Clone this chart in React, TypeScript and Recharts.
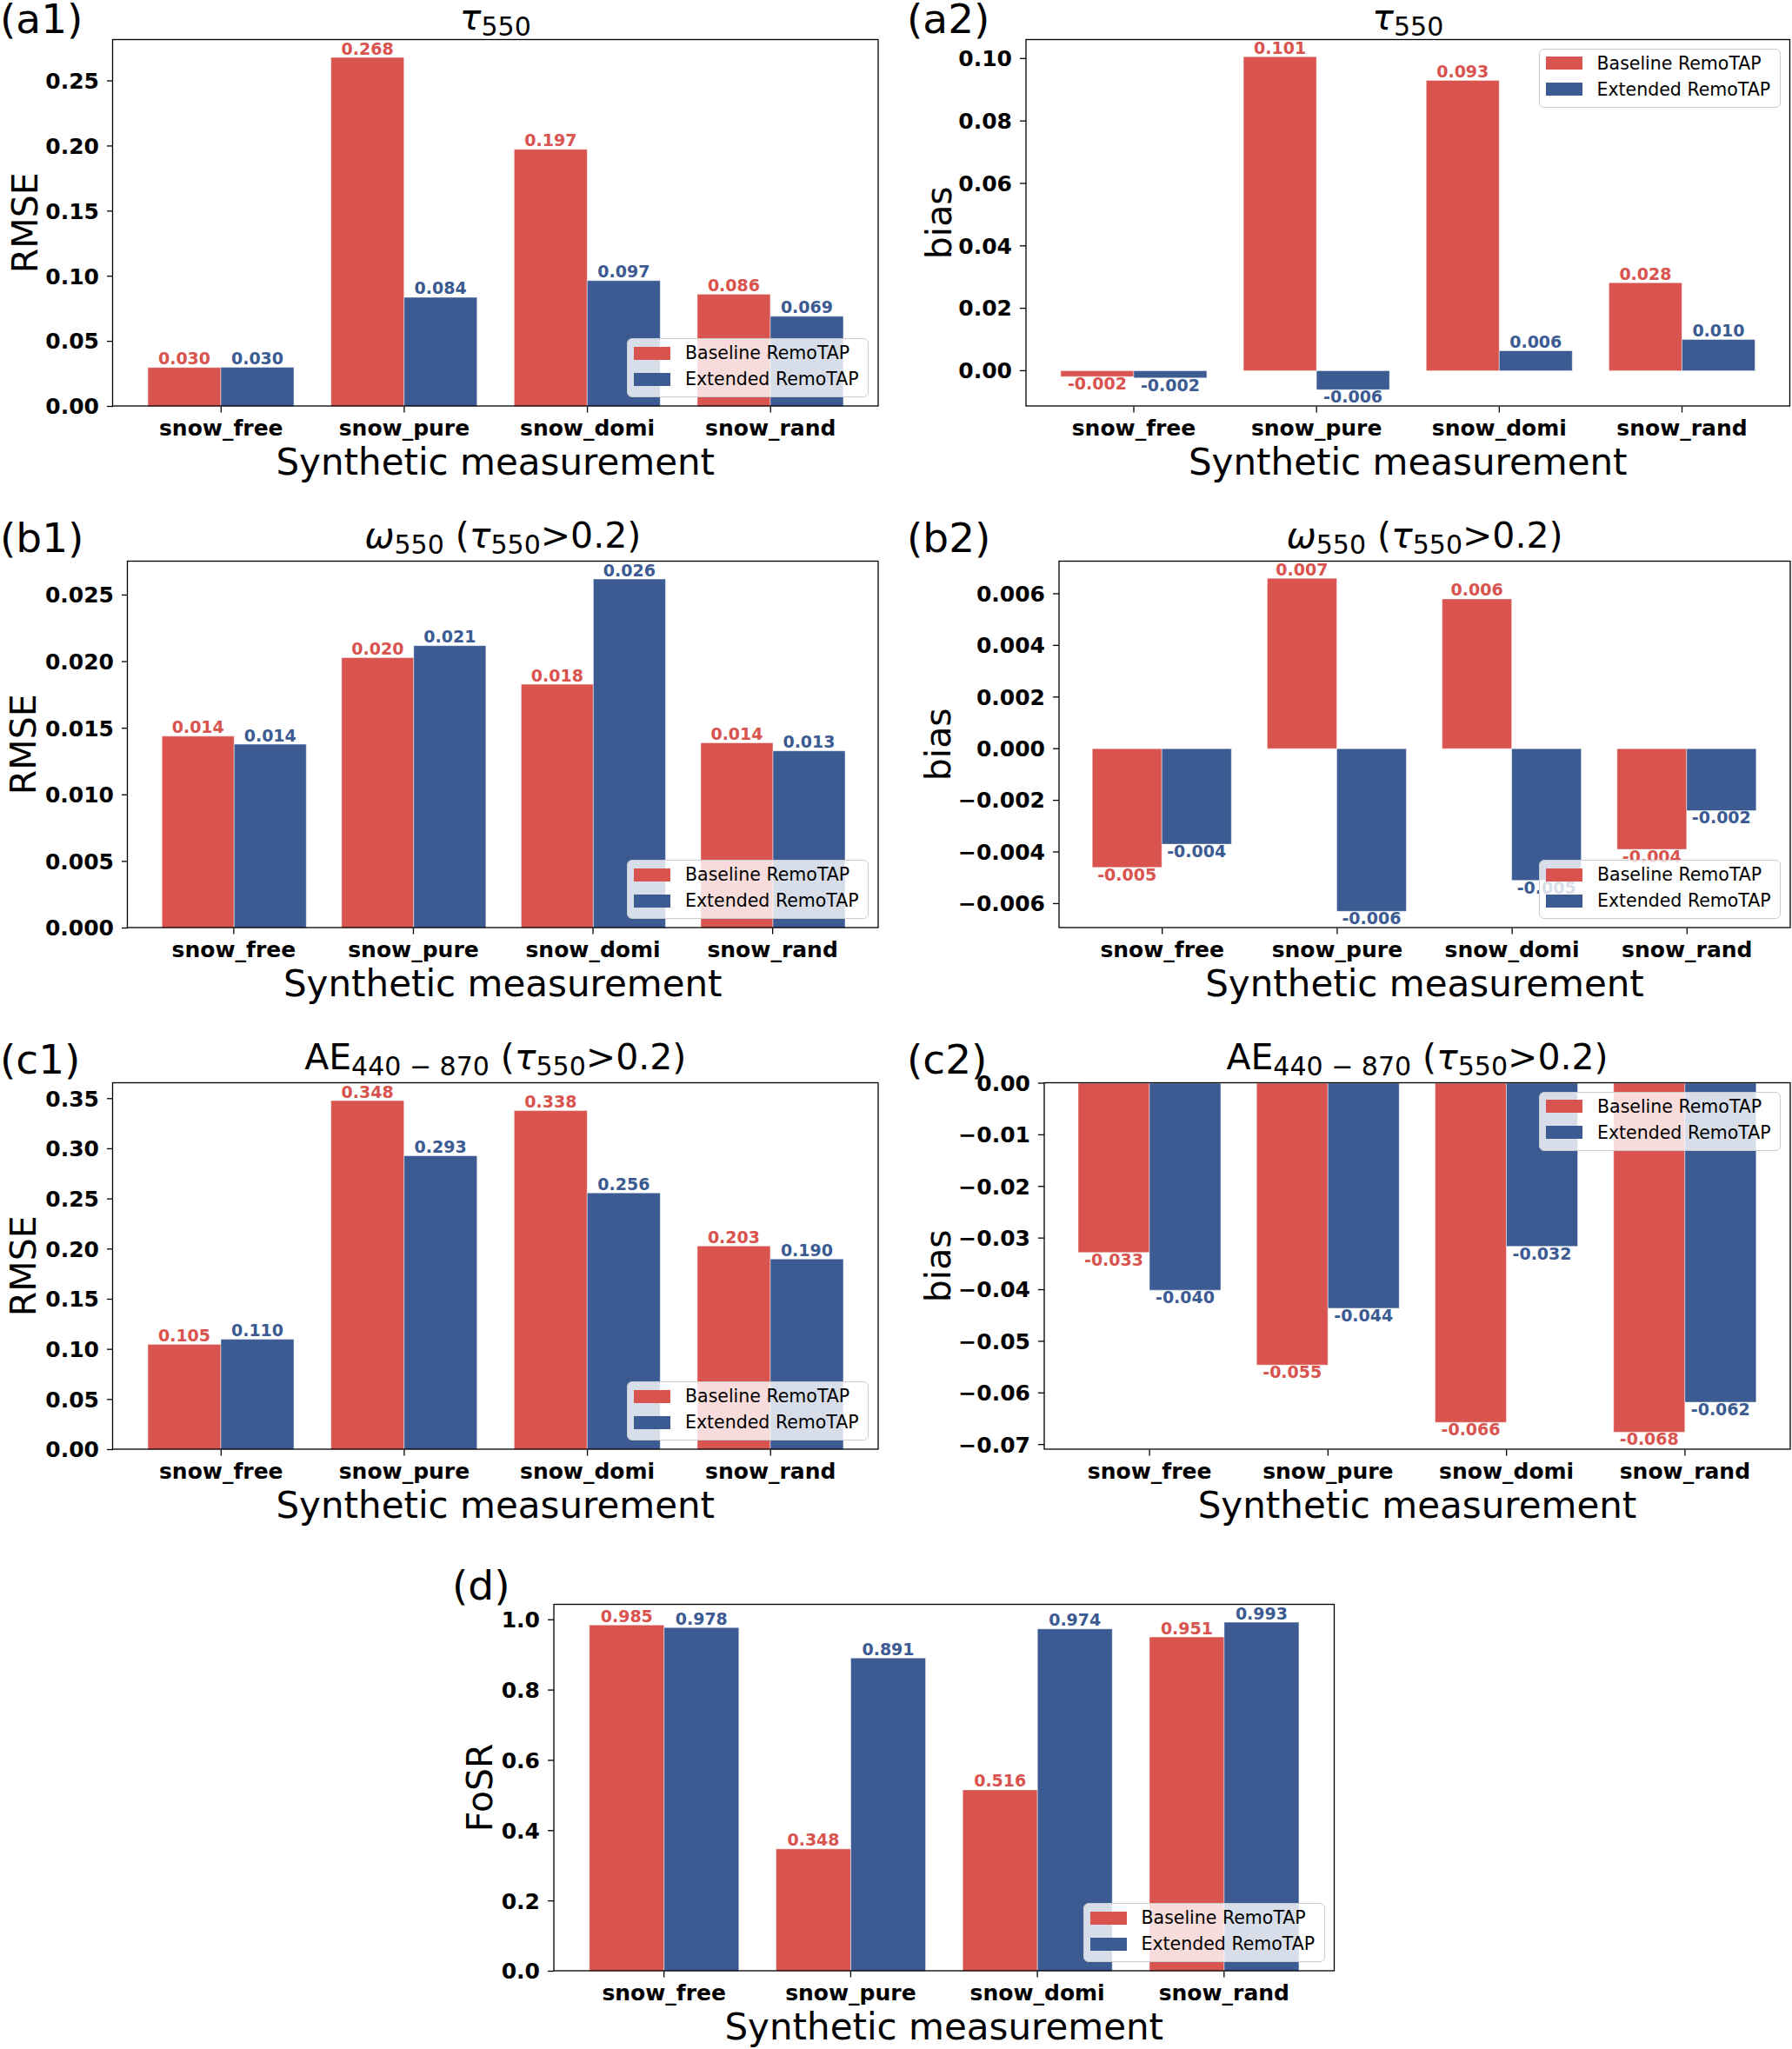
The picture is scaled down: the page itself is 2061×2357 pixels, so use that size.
import React from 'react';
import { BarChart, Bar, XAxis, YAxis, LabelList, Legend } from 'recharts';

const FONT = "'DejaVu Sans', Verdana, sans-serif";
const RED = '#d9534f';
const BLUE = '#3b5b92';

const categories = ['snow_free', 'snow_pure', 'snow_domi', 'snow_rand'];
const seriesNames = ['Baseline RemoTAP', 'Extended RemoTAP'];

// (a) tau550
const a1Baseline = [0.0299, 0.268, 0.1974, 0.0862];
const a1Extended = [0.03, 0.0838, 0.0966, 0.0692];
const a1Ticks = [0, 0.05, 0.1, 0.15, 0.2, 0.25];
const a2Baseline = [-0.0019, 0.1006, 0.093, 0.0282];
const a2Extended = [-0.0023, -0.0061, 0.0064, 0.01];
const a2Ticks = [0, 0.02, 0.04, 0.06, 0.08, 0.1];

// (b) omega550, tau550 > 0.2
const b1Baseline = [0.0144, 0.0203, 0.0183, 0.0139];
const b1Extended = [0.0138, 0.0212, 0.0262, 0.0133];
const b1Ticks = [0, 0.005, 0.01, 0.015, 0.02, 0.025];
const b2Baseline = [-0.0046, 0.0066, 0.0058, -0.0039];
const b2Extended = [-0.0037, -0.0063, -0.0051, -0.0024];
const b2Ticks = [-0.006, -0.004, -0.002, 0, 0.002, 0.004, 0.006];

// (c) AE440-870, tau550 > 0.2
const c1Baseline = [0.105, 0.348, 0.338, 0.203];
const c1Extended = [0.11, 0.293, 0.256, 0.19];
const c1Ticks = [0, 0.05, 0.1, 0.15, 0.2, 0.25, 0.3, 0.35];
const c2Baseline = [-0.0328, -0.0546, -0.0657, -0.0676];
const c2Extended = [-0.0401, -0.0436, -0.0316, -0.0618];
const c2Ticks = [-0.07, -0.06, -0.05, -0.04, -0.03, -0.02, -0.01, 0];

// (d) FoSR
const dBaseline = [0.985, 0.348, 0.516, 0.951];
const dExtended = [0.978, 0.891, 0.974, 0.993];
const dTicks = [0, 0.2, 0.4, 0.6, 0.8, 1.0];

// layout
const YW = 120; // y axis width
const XH = 70; // x axis height
const MT = 20;
const MR = 10;
const PH = 421.5; // plot height
const LEG_W = 278;
const LEG_H = 68;

const TITLE = 41;
const SUB = 30;
const SHIFT = 7;
const TICK_FONT = 25;

// matplotlib-like autoscale for bars (5% margin, sticky at zero)
function barDomain(vals: number[]): [number, number] {
  const lo = Math.min(0, ...vals);
  const hi = Math.max(0, ...vals);
  const m = (hi - lo) * 0.05;
  return [lo < 0 ? lo - m : 0, hi > 0 ? hi + m : 0];
}

const fmtTick = (d: number) => (v: number) =>
  (v < -1e-12 ? '\u2212' : '') + Math.abs(v).toFixed(d);

const valueLabel = (color: string) => (props: any) => {
  const vb = props.viewBox ?? props;
  const x = Number(vb.x);
  const y = Number(vb.y);
  const w = Number(vb.width);
  const h = Number(vb.height);
  const v = Number(props.value);
  const cx = x + w / 2;
  const top = Math.min(y, y + h);
  const bottom = Math.max(y, y + h);
  return (
    <text
      x={cx}
      y={v >= 0 ? top - 3.5 : bottom + 15}
      textAnchor="middle"
      fill={color}
      fontSize={19}
      fontWeight="bold"
      fontFamily={FONT}
    >
      {v.toFixed(3)}
    </text>
  );
};

const LegendBox = (props: any) => {
  const items = props.payload ?? [];
  return (
    <div
      style={{
        boxSizing: 'border-box',
        width: LEG_W,
        height: LEG_H,
        background: 'rgba(255,255,255,0.8)',
        border: '1.5px solid #cccccc',
        borderRadius: 6,
        padding: '1px 0 0 7px',
        fontFamily: FONT,
        fontSize: 20.5,
        color: '#000',
      }}
    >
      {items.map((it: any) => (
        <div key={it.value} style={{ display: 'flex', alignItems: 'center', height: 30 }}>
          <span style={{ display: 'inline-block', width: 42, height: 15, background: it.color, marginRight: 17 }} />
          <span>{it.value}</span>
        </div>
      ))}
    </div>
  );
};

type Plot = { left: number; top: number; width: number };

type PanelDef = {
  id: string;
  base: number[];
  ext: number[];
  ticks: number[];
  decimals: number;
  plot: Plot;
  legend: 'upper' | 'lower';
  ylabel: string;
  ylabelX: number;
  labelX: number;
  labelY: number;
  title: 'tau' | 'omega' | 'ae' | 'none';
  titleY: number;
};

const panels: PanelDef[] = [
  { id: '(a1)', base: a1Baseline, ext: a1Extended, ticks: a1Ticks, decimals: 2, plot: { left: 129.5, top: 45.5, width: 880.5 }, legend: 'lower', ylabel: 'RMSE', ylabelX: 43, labelX: 0, labelY: 38, title: 'tau', titleY: 34 },
  { id: '(a2)', base: a2Baseline, ext: a2Extended, ticks: a2Ticks, decimals: 2, plot: { left: 1180, top: 45.5, width: 878.5 }, legend: 'upper', ylabel: 'bias', ylabelX: 1094, labelX: 1043, labelY: 38, title: 'tau', titleY: 34 },
  { id: '(b1)', base: b1Baseline, ext: b1Extended, ticks: b1Ticks, decimals: 3, plot: { left: 146.5, top: 645.5, width: 863.5 }, legend: 'lower', ylabel: 'RMSE', ylabelX: 41, labelX: 0, labelY: 635, title: 'omega', titleY: 630 },
  { id: '(b2)', base: b2Baseline, ext: b2Extended, ticks: b2Ticks, decimals: 3, plot: { left: 1218, top: 645.5, width: 841 }, legend: 'lower', ylabel: 'bias', ylabelX: 1092.5, labelX: 1043, labelY: 635, title: 'omega', titleY: 630 },
  { id: '(c1)', base: c1Baseline, ext: c1Extended, ticks: c1Ticks, decimals: 2, plot: { left: 129.5, top: 1245.5, width: 880.5 }, legend: 'lower', ylabel: 'RMSE', ylabelX: 41, labelX: 0, labelY: 1235, title: 'ae', titleY: 1229.5 },
  { id: '(c2)', base: c2Baseline, ext: c2Extended, ticks: c2Ticks, decimals: 2, plot: { left: 1201, top: 1245.5, width: 858 }, legend: 'upper', ylabel: 'bias', ylabelX: 1092.5, labelX: 1043, labelY: 1235, title: 'ae', titleY: 1229.5 },
  { id: '(d)', base: dBaseline, ext: dExtended, ticks: dTicks, decimals: 1, plot: { left: 637, top: 1845.5, width: 897.5 }, legend: 'lower', ylabel: 'FoSR', ylabelX: 566, labelX: 520, labelY: 1840, title: 'none', titleY: 0 },
];

const Cond = () => (
  <>
    <tspan dy={-SHIFT}>{' ('}</tspan>
    <tspan fontStyle="italic">τ</tspan>
    <tspan fontSize={SUB} dy={SHIFT}>550</tspan>
    <tspan dy={-SHIFT}>{'>0.2)'}</tspan>
  </>
);

const TitleText = ({ kind }: { kind: PanelDef['title'] }) => {
  if (kind === 'tau')
    return (
      <>
        <tspan fontStyle="italic">τ</tspan>
        <tspan fontSize={SUB} dy={SHIFT}>550</tspan>
      </>
    );
  if (kind === 'omega')
    return (
      <>
        <tspan fontStyle="italic">ω</tspan>
        <tspan fontSize={SUB} dy={SHIFT}>550</tspan>
        <Cond />
      </>
    );
  return (
    <>
      <tspan>AE</tspan>
      <tspan fontSize={SUB} dy={SHIFT}>440 − 870</tspan>
      <Cond />
    </>
  );
};

const Panel = ({ p }: { p: PanelDef }) => {
  const data = categories.map((c, i) => ({ name: c, base: p.base[i], ext: p.ext[i] }));
  const domain = barDomain([...p.base, ...p.ext]);
  const band = p.plot.width / 4.18;
  const pad = band * 0.09;
  const chartW = YW + p.plot.width + MR;
  const chartH = MT + PH + XH;
  const legTop = p.legend === 'upper' ? MT + 10 : MT + PH - 10 - LEG_H;
  const legLeft = YW + p.plot.width - 11 - LEG_W;
  return (
    <div style={{ position: 'absolute', left: p.plot.left - YW, top: p.plot.top - MT }}>
      <BarChart
        width={chartW}
        height={chartH}
        data={data}
        margin={{ top: MT, right: MR, bottom: 0, left: 0 }}
        barCategoryGap="10%"
        barGap={0}
      >
        <XAxis
          dataKey="name"
          padding={{ left: pad, right: pad }}
          height={XH}
          interval={0}
          axisLine={false}
          tickSize={7}
          tickMargin={9}
          tickLine={{ stroke: '#000', strokeWidth: 1.3 }}
          tick={{ fill: '#000', fontSize: TICK_FONT, fontWeight: 'bold', fontFamily: FONT }}
        />
        <YAxis
          type="number"
          domain={domain}
          allowDataOverflow
          ticks={p.ticks}
          interval={0}
          tickFormatter={fmtTick(p.decimals)}
          width={YW}
          axisLine={false}
          tickSize={7}
          tickMargin={9}
          tickLine={{ stroke: '#000', strokeWidth: 1.3 }}
          tick={{ fill: '#000', fontSize: TICK_FONT, fontWeight: 'bold', fontFamily: FONT }}
        />
        <Bar dataKey="base" name={seriesNames[0]} fill={RED} stroke="#ffffff" strokeOpacity={0.45} strokeWidth={1} isAnimationActive={false}>
          <LabelList dataKey="base" content={valueLabel(RED)} />
        </Bar>
        <Bar dataKey="ext" name={seriesNames[1]} fill={BLUE} stroke="#ffffff" strokeOpacity={0.45} strokeWidth={1} isAnimationActive={false}>
          <LabelList dataKey="ext" content={valueLabel(BLUE)} />
        </Bar>
        <Legend
          layout="vertical"
          align="center"
          verticalAlign="middle"
          content={LegendBox}
          wrapperStyle={{ left: legLeft, top: legTop, width: LEG_W, height: LEG_H }}
        />
      </BarChart>
    </div>
  );
};

const Overlay = () => (
  <svg
    width={2061}
    height={2357}
    style={{ position: 'absolute', left: 0, top: 0, pointerEvents: 'none', overflow: 'visible' }}
    fontFamily={FONT}
  >
    {panels.map((p) => {
      const cx = p.plot.left + p.plot.width / 2;
      const cy = p.plot.top + PH / 2;
      return (
        <g key={p.id}>
          <rect x={p.plot.left} y={p.plot.top} width={p.plot.width} height={PH} fill="none" stroke="#000" strokeWidth={1.3} />
          <text x={p.labelX} y={p.labelY} fontSize={47} fill="#000">{p.id}</text>
          {p.title !== 'none' && (
            <text x={cx} y={p.titleY} fontSize={TITLE} textAnchor="middle" fill="#000">
              <TitleText kind={p.title} />
            </text>
          )}
          <text x={cx} y={p.plot.top + PH + 79} fontSize={42} textAnchor="middle" fill="#000">
            Synthetic measurement
          </text>
          <text
            x={p.ylabelX}
            y={cy}
            fontSize={41}
            textAnchor="middle"
            fill="#000"
            transform={`rotate(-90 ${p.ylabelX} ${cy})`}
          >
            {p.ylabel}
          </text>
        </g>
      );
    })}
  </svg>
);

export default function App() {
  return (
    <div style={{ position: 'absolute', left: 0, top: 0, width: 2061, height: 2357, background: '#fff', overflow: 'hidden' }}>
      {panels.map((p) => (
        <Panel key={p.id} p={p} />
      ))}
      <Overlay />
    </div>
  );
}
